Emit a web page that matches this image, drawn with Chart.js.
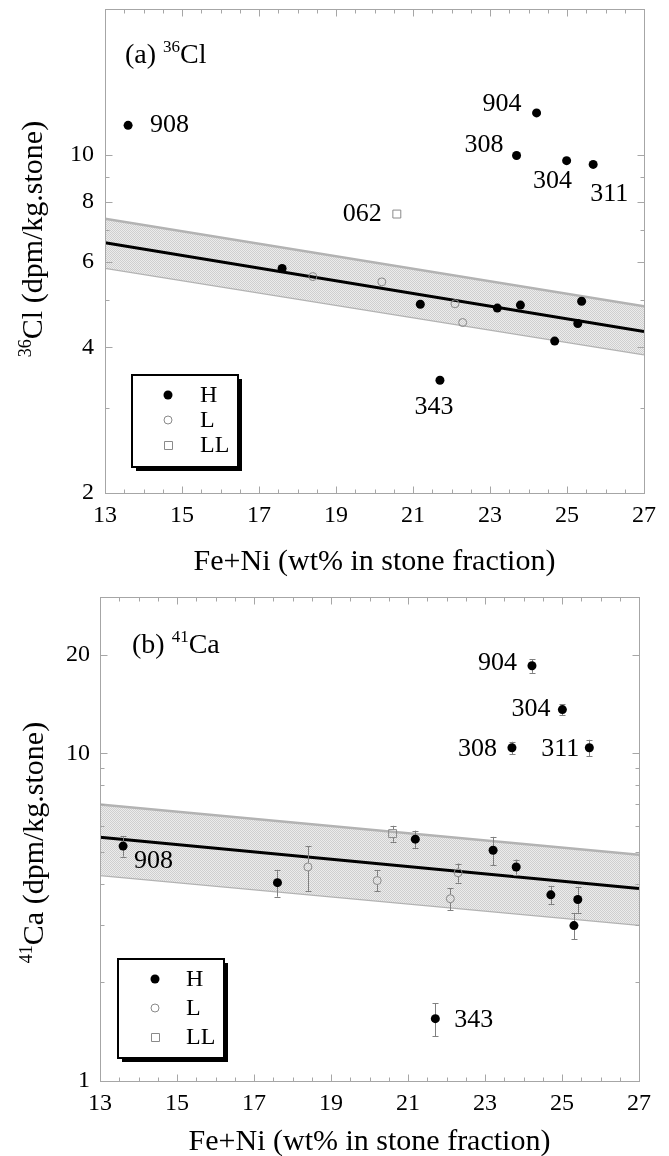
<!DOCTYPE html>
<html>
<head>
<meta charset="utf-8">
<script src="https://cdn.jsdelivr.net/npm/chart.js@4.4.0/dist/chart.umd.min.js"></script>
<style>
    html, body { margin: 0; padding: 0; background: #fff; }
    #wrap { position: relative; width: 669px; height: 1156px; }
    .panel { position: absolute; left: 0; width: 669px; height: 578px; }
</style>
</head>
<body>
<div id="wrap">
    <div class="panel" style="top:0"><canvas id="chart-cl" width="669" height="578"></canvas></div>
    <div class="panel" style="top:578px"><canvas id="chart-ca" width="669" height="578"></canvas></div>
</div>
<script>
// ---- shared ----
const classes = ['H', 'L', 'LL'];
const xTicks = [13, 15, 17, 19, 21, 23, 25, 27];
const fitFe = [13, 27];

// ---- (a) 36Cl ----
const clTicks = [2, 4, 6, 8, 10];
const clMinor = [2, 3, 4, 5, 6, 7, 8, 9, 10, 20];
const clH_fe  = [13.6, 17.6, 21.19, 21.7, 23.19, 23.69, 23.79, 24.21, 24.68, 24.99, 25.28, 25.38, 25.68];
const clH_val = [11.5, 5.82, 4.91, 3.42, 4.82, 9.96, 4.89, 12.2, 4.12, 9.72, 4.48, 4.98, 9.55];
const clH_id  = ['908', '', '', '343', '', '308', '', '904', '', '304', '', '', '311'];
const clL_fe  = [18.4, 20.19, 22.09, 22.29];
const clL_val = [5.6, 5.46, 4.92, 4.5];
const clLL_fe  = [20.58];
const clLL_val = [7.54];
const clLL_id  = ['062'];
const clFit    = [6.58, 4.31];
const clBandHi = [7.37, 4.86];
const clBandLo = [5.84, 3.87];

// ---- (b) 41Ca ----
const caTicks = [1, 10, 20];
const caMinor = [1, 2, 3, 4, 5, 6, 7, 8, 9, 10, 20, 30];
const caH_fe  = [13.6, 17.61, 21.19, 21.71, 23.21, 23.7, 23.81, 24.22, 24.71, 25.01, 25.31, 25.41, 25.71];
const caH_val = [5.21, 4.03, 5.47, 1.55, 5.06, 10.4, 4.5, 18.5, 3.7, 13.6, 2.98, 3.58, 10.4];
const caH_err = [0.37, 0.38, 0.34, 0.18, 0.5, 0.45, 0.24, 0.9, 0.24, 0.53, 0.27, 0.32, 0.6];
const caH_id  = ['908', '', '', '343', '', '308', '', '904', '', '304', '', '', '311'];
const caL_fe  = [18.4, 20.2, 22.1, 22.3];
const caL_val = [4.5, 4.09, 3.6, 4.32];
const caL_err = [0.7, 0.3, 0.28, 0.29];
const caLL_fe  = [20.6];
const caLL_val = [5.69];
const caLL_err = [0.32];
const caFit    = [5.55, 3.87];
const caBandHi = [6.98, 4.9];
const caBandLo = [4.25, 3.0];

const SERIF = "'Liberation Serif', 'Times New Roman', serif";

function pts(xs, ys) { return xs.map((x, i) => ({ x: x, y: ys[i] })); }

function drawMarker(ctx, type, x, y) {
    ctx.save();
    ctx.lineWidth = 1;
    ctx.strokeStyle = '#8a8a8a';
    ctx.beginPath();
    if (type === 'H') {
        ctx.fillStyle = '#000';
        ctx.arc(x, y, 4.5, 0, Math.PI * 2);
        ctx.fill();
    } else if (type === 'L') {
        ctx.arc(x, y, 4, 0, Math.PI * 2);
        ctx.stroke();
    } else {
        ctx.rect(x - 3.5, y - 3.5, 8, 8);
        ctx.stroke();
    }
    ctx.restore();
}

// text pieces drawn one after another: [text, size, rise]
function drawParts(ctx, parts, x, y) {
    parts.forEach(([txt, size, rise]) => {
        ctx.font = size + 'px ' + SERIF;
        ctx.fillText(txt, x, y - rise);
        x += ctx.measureText(txt).width;
    });
}
function partsWidth(ctx, parts) {
    let w = 0;
    parts.forEach(([txt, size]) => { ctx.font = size + 'px ' + SERIF; w += ctx.measureText(txt).width; });
    return w;
}

function decoPlugin(p) {
    return {
        id: 'deco',
        beforeDatasetDraw(chart, args) {
            const ds = chart.data.datasets[args.index];
            if (!ds.errs) return;
            const ctx = chart.ctx, xs = chart.scales.x, ys = chart.scales.y;
            ctx.save();
            ctx.strokeStyle = '#808080';
            ctx.lineWidth = 1;
            ctx.beginPath();
            ds.data.forEach((pt, i) => {
                const px = Math.round(xs.getPixelForValue(pt.x)) + 0.5;
                const py = ys.getPixelForValue(pt.y);
                const hi = ys.getPixelForValue(pt.y + ds.errs[i]);
                const lo = ys.getPixelForValue(pt.y - ds.errs[i]);
                const gap = ds.hollow ? 4 : 0;
                ctx.moveTo(px, hi); ctx.lineTo(px, py - gap);
                ctx.moveTo(px, py + gap); ctx.lineTo(px, lo);
                ctx.moveTo(px - 3, Math.round(hi) + 0.5); ctx.lineTo(px + 3, Math.round(hi) + 0.5);
                ctx.moveTo(px - 3, Math.round(lo) + 0.5); ctx.lineTo(px + 3, Math.round(lo) + 0.5);
            });
            ctx.stroke();
            ctx.restore();
        },
        afterDraw(chart) {
            const ctx = chart.ctx, a = chart.chartArea, xs = chart.scales.x, ys = chart.scales.y;
            const L = Math.round(a.left) + 0.5, R = Math.round(a.right) + 0.5;
            const T = Math.round(a.top) + 0.5, B = Math.round(a.bottom) + 0.5;
            ctx.save();

            // frame + inward ticks on all sides
            ctx.strokeStyle = '#a6a6a6';
            ctx.lineWidth = 1;
            ctx.strokeRect(L, T, R - L, B - T);
            ctx.beginPath();
            for (let v = 13; v <= 27; v += 0.5) {
                const x = Math.round(xs.getPixelForValue(v)) + 0.5;
                const len = xTicks.includes(v) ? 7 : 4;
                ctx.moveTo(x, B); ctx.lineTo(x, B - len);
                ctx.moveTo(x, T); ctx.lineTo(x, T + len);
            }
            p.yMinor.forEach(v => {
                const y = Math.round(ys.getPixelForValue(v)) + 0.5;
                const len = p.yTicks.includes(v) ? 7 : 4;
                ctx.moveTo(L, y); ctx.lineTo(L + len, y);
                ctx.moveTo(R, y); ctx.lineTo(R - len, y);
            });
            ctx.stroke();

            // sample numbers
            ctx.fillStyle = '#000';
            ctx.font = '26px ' + SERIF;
            ctx.textBaseline = 'middle';
            chart.data.datasets.forEach(ds => {
                if (!ds.ids) return;
                ds.data.forEach((pt, i) => {
                    const id = ds.ids[i];
                    if (!id) return;
                    const [dx, dy, align] = p.labelPos[id];
                    ctx.textAlign = align;
                    ctx.fillText(id, xs.getPixelForValue(pt.x) + dx, ys.getPixelForValue(pt.y) + dy);
                });
            });

            // legend box with drop shadow
            const lg = p.legend;
            ctx.fillStyle = '#000';
            ctx.fillRect(lg.x + 4, lg.y + 4, lg.w, lg.h);
            ctx.fillStyle = '#fff';
            ctx.fillRect(lg.x, lg.y, lg.w, lg.h);
            ctx.strokeStyle = '#000';
            ctx.lineWidth = 2;
            ctx.strokeRect(lg.x, lg.y, lg.w, lg.h);
            classes.forEach((c, k) => {
                drawMarker(ctx, c, lg.markerX, lg.rows[k]);
                ctx.fillStyle = '#000';
                ctx.textAlign = 'left';
                ctx.textBaseline = 'middle';
                ctx.font = '24px ' + SERIF;
                ctx.fillText(c, lg.textX, lg.rows[k] + 1);
            });

            // panel title
            ctx.textBaseline = 'alphabetic';
            ctx.textAlign = 'left';
            drawParts(ctx, p.title.parts, p.title.x, p.title.y);

            // x title
            ctx.font = '30px ' + SERIF;
            ctx.textAlign = 'center';
            ctx.textBaseline = 'middle';
            ctx.fillText('Fe+Ni (wt% in stone fraction)', p.xTitle.x, p.xTitle.y);

            // y title (rotated)
            ctx.save();
            ctx.translate(p.yTitle.x, p.yTitle.y);
            ctx.rotate(-Math.PI / 2);
            ctx.textAlign = 'left';
            ctx.textBaseline = 'alphabetic';
            drawParts(ctx, p.yTitle.parts, -partsWidth(ctx, p.yTitle.parts) / 2, 0);
            ctx.restore();

            ctx.restore();
        }
    };
}

function buildPanel(p) {
    const canvas = document.getElementById(p.id);
    const tile = document.createElement('canvas');
    tile.width = 2; tile.height = 2;
    const t = tile.getContext('2d');
    t.fillStyle = '#ececec'; t.fillRect(0, 0, 2, 2);
    t.fillStyle = '#cfcfcf'; t.fillRect(0, 0, 1, 1); t.fillRect(1, 1, 1, 1);
    const hatch = canvas.getContext('2d').createPattern(tile, 'repeat');

    const line = (data, color, width, fill, bg) => ({
        type: 'line', data: data, borderColor: color, borderWidth: width,
        pointRadius: 0, tension: 0, fill: fill, backgroundColor: bg || 'transparent'
    });

    return new Chart(canvas, {
        type: 'scatter',
        data: {
            datasets: [
                { data: p.H, errs: p.hErr, ids: p.hIds, pointStyle: 'circle', pointRadius: 4.5,
                  pointBackgroundColor: '#000', pointBorderColor: '#000', pointBorderWidth: 0 },
                { data: p.L, errs: p.lErr, hollow: true, pointStyle: 'circle', pointRadius: 4,
                  pointBackgroundColor: 'rgba(0,0,0,0)', pointBorderColor: '#8a8a8a', pointBorderWidth: 1 },
                { data: p.LL, errs: p.llErr, ids: p.llIds, hollow: true, pointStyle: 'rect', pointRadius: 5.6,
                  pointBackgroundColor: 'rgba(0,0,0,0)', pointBorderColor: '#8a8a8a', pointBorderWidth: 1 },
                line(p.fit, '#000', 3, false),
                line(p.bandHi, '#b3b3b3', 2.5, '+1', hatch),
                line(p.bandLo, '#b3b3b3', 2.5, false)
            ]
        },
        options: {
            responsive: false,
            animation: false,
            events: [],
            layout: { autoPadding: false, padding: { left: 0, top: p.area.top, right: 669 - p.area.right, bottom: 0 } },
            plugins: { legend: { display: false }, tooltip: { enabled: false } },
            scales: {
                x: {
                    type: 'linear', min: 13, max: 27,
                    grid: { display: false, drawTicks: false }, border: { display: false },
                    ticks: { padding: 8, color: '#000', autoSkip: false, maxRotation: 0,
                             font: { family: SERIF, size: 24 } },
                    afterBuildTicks: s => { s.ticks = xTicks.map(v => ({ value: v })); },
                    afterFit: s => { s.height = 578 - p.area.bottom; s.paddingLeft = 0; s.paddingRight = 0; }
                },
                y: {
                    type: 'logarithmic', min: p.yMin, max: p.yMax,
                    grid: { display: false, drawTicks: false }, border: { display: false },
                    ticks: { padding: p.yPad, color: '#000', autoSkip: false,
                             font: { family: SERIF, size: 24 }, callback: v => String(v) },
                    afterBuildTicks: s => { s.ticks = p.yTicks.map(v => ({ value: v })); },
                    afterFit: s => { s.width = p.area.left; s.paddingTop = 0; s.paddingBottom = 0; }
                }
            }
        },
        plugins: [decoPlugin(p)]
    });
}

buildPanel({
    id: 'chart-cl',
    area: { left: 105, right: 644, top: 9, bottom: 493 },
    yMin: 2, yMax: 20, yTicks: clTicks, yMinor: clMinor, yPad: 11,
    H: pts(clH_fe, clH_val), hIds: clH_id,
    L: pts(clL_fe, clL_val),
    LL: pts(clLL_fe, clLL_val), llIds: clLL_id,
    fit: pts(fitFe, clFit), bandHi: pts(fitFe, clBandHi), bandLo: pts(fitFe, clBandLo),
    labelPos: {
        '908': [22, 0, 'left'], '904': [-15, -9, 'right'], '308': [-13, -10, 'right'],
        '304': [-14, 21, 'center'], '311': [16, 30, 'center'], '062': [-15, 0, 'right'],
        '343': [-6, 27, 'center']
    },
    legend: { x: 132, y: 375, w: 106, h: 92, markerX: 168, textX: 200, rows: [395, 420, 445] },
    title: { x: 125, y: 63, parts: [['(a) ', 28, 0], ['36', 17, 11], ['Cl', 28, 0]] },
    xTitle: { x: 374.5, y: 562 },
    yTitle: { x: 42, y: 239, parts: [['36', 18, 11], ['Cl (dpm/kg.stone)', 30, 0]] }
});

buildPanel({
    id: 'chart-ca',
    area: { left: 100, right: 639, top: 19, bottom: 503 },
    yMin: 1, yMax: 30, yTicks: caTicks, yMinor: caMinor, yPad: 10,
    H: pts(caH_fe, caH_val), hErr: caH_err, hIds: caH_id,
    L: pts(caL_fe, caL_val), lErr: caL_err,
    LL: pts(caLL_fe, caLL_val), llErr: caLL_err,
    fit: pts(fitFe, caFit), bandHi: pts(fitFe, caBandHi), bandLo: pts(fitFe, caBandLo),
    labelPos: {
        '904': [-15, -3, 'right'], '304': [-12, 0, 'right'], '308': [-15, 1, 'right'],
        '311': [-10, 1, 'right'], '908': [11, 15, 'left'], '343': [19, 2, 'left']
    },
    legend: { x: 118, y: 381, w: 106, h: 99, markerX: 155, textX: 186, rows: [401, 430, 459] },
    title: { x: 132, y: 75, parts: [['(b) ', 28, 0], ['41', 17, 11], ['Ca', 28, 0]] },
    xTitle: { x: 369.5, y: 564 },
    yTitle: { x: 43, y: 264.5, parts: [['41', 18, 11], ['Ca (dpm/kg.stone)', 30, 0]] }
});
</script>
</body>
</html>
